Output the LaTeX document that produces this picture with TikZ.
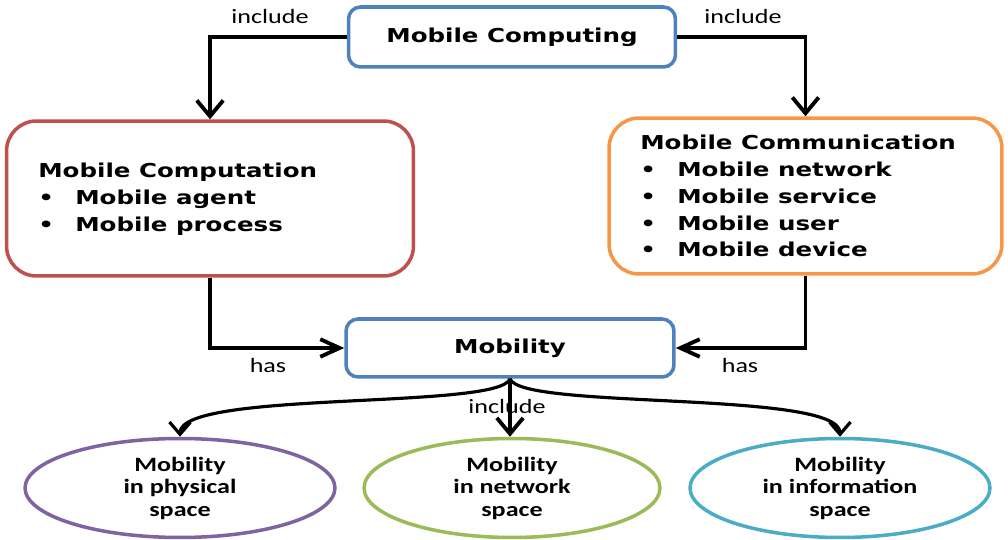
\documentclass[tikz,border=0pt]{standalone}
\usepackage{fontspec}
\setmainfont{DejaVu Sans}
\newfontfamily\boxf{DejaVu Sans}[FakeStretch=1.28]
\newfontfamily\ellf{Carlito}[FakeStretch=1.28]
\usetikzlibrary{arrows.meta,shapes.geometric}
\definecolor{cblue}{HTML}{4F81BD}
\definecolor{cred}{HTML}{C0504D}
\definecolor{corange}{HTML}{F79646}
\definecolor{cpurple}{HTML}{8064A2}
\definecolor{cgreen}{HTML}{9BBB59}
\definecolor{cteal}{HTML}{4BACC6}
\tikzset{
  rbox/.style={draw, line width=2pt, fill=white, inner sep=0pt,
    font=\boxf\bfseries\fontsize{10.9pt}{15.3pt}\selectfont},
  boxtext/.style={font=\boxf\bfseries\fontsize{10.9pt}{15.3pt}\selectfont, inner sep=0pt, align=left, anchor=west},
  ell/.style={ellipse, draw, line width=2pt, fill=white, inner sep=0pt, align=center,
    font=\ellf\bfseries\fontsize{11.6pt}{12.8pt}\selectfont, minimum height=1.98cm},
  vconn/.style={line width=2.2pt, -{Straight Barb[length=9pt,width=15pt]}},
  hconn/.style={line width=2.2pt, -{Straight Barb[length=11pt,width=10pt]}},
  curv/.style={line width=1.8pt, -{Straight Barb[length=7pt,width=12pt]}},
  lbl/.style={font=\ellf\fontsize{11.6pt}{13pt}\selectfont, inner sep=0pt},
}
\newcommand{\bul}{\makebox[0.74cm][l]{\textbullet}}
\begin{document}
\begin{tikzpicture}[x=0.02cm,y=-0.02cm]
\useasboundingbox (0,0) rectangle (1008,540);
% boxes
\node[rbox, draw=cblue, rounded corners=0.24cm, minimum width=6.54cm, minimum height=1.2cm] (mc) at (512,37) {Mobile Computing};
\node[rbox, draw=cred, rounded corners=0.6cm, minimum width=8.14cm, minimum height=3.1cm] (comp) at (210,198.5) {};
\node[boxtext] (comptext) at (38,199) {Mobile Computation\\ \bul Mobile agent\\ \bul Mobile process};
\node[rbox, draw=corange, rounded corners=0.6cm, minimum width=7.86cm, minimum height=3.12cm] (comm) at (805.5,196) {};
\node[boxtext] (commtext) at (640,196) {Mobile Communication\\ \bul Mobile network\\ \bul Mobile service\\ \bul Mobile user\\ \bul Mobile device};
\node[rbox, draw=cblue, rounded corners=0.24cm, minimum width=6.56cm, minimum height=1.16cm] (mob) at (510,348) {Mobility};
% ellipses
\node[ell, draw=cpurple, minimum width=6.2cm] (e1) at (180,488) {Mobility\\in physical\\space};
\node[ell, draw=cgreen, minimum width=5.92cm] (e2) at (512,488) {Mobility\\in network\\space};
\node[ell, draw=cteal, minimum width=6.0cm] (e3) at (840,488) {Mobility\\in information\\space};
% labels
\node[lbl] (l1) at (270,17) {include};
\node[lbl] (l2) at (743,17) {include};
\node[lbl] (l3) at (268,366) {has};
\node[lbl] (l4) at (740,366) {has};
\node[lbl] (l5) at (507,407) {include};
% connectors
\draw[vconn] (mc.west) -| (comp.north);
\draw[vconn] (mc.east) -| (comm.north);
\draw[hconn] (comp.south) |- (mob.west);
\draw[hconn] (comm.south) |- (mob.east);
\draw[curv] (mob.south) .. controls (500,410) and (180,390) .. (e1.north);
\draw[curv] (mob.south) .. controls (520,410) and (840,390) .. (e3.north);
\draw[vconn] (mob.south) -- (mob.south |- e2.north);
\end{tikzpicture}
\end{document}
